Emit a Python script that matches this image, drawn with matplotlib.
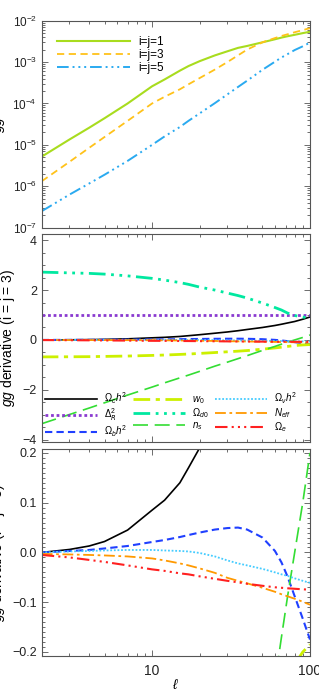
import numpy as np
import matplotlib
matplotlib.use('Agg')
import matplotlib.pyplot as plt
from matplotlib.ticker import MultipleLocator, FormatStrFormatter, NullFormatter, LogLocator

plt.rcParams['font.family'] = ['Liberation Sans', 'DejaVu Sans']
plt.rcParams['mathtext.fontset'] = 'custom'
plt.rcParams['mathtext.rm'] = 'Liberation Sans'
plt.rcParams['mathtext.it'] = 'Liberation Sans:italic'
plt.rcParams['mathtext.bf'] = 'Liberation Sans:bold'
plt.rcParams['mathtext.cal'] = 'DejaVu Sans:italic'

# multipole values shared by every curve
ell = [2, 3, 4, 5, 7, 10, 12, 15, 17, 20, 25, 30, 35, 40, 50, 60, 66, 72, 80, 90, 100]

# top panel: gg auto spectra
gg11 = [5.2e-6, 1.35e-5, 2.6e-5, 4.4e-5, 1.0e-4, 2.6e-4, 3.8e-4, 6.2e-4, 8.0e-4, 1.05e-3,
        1.45e-3, 1.82e-3, 2.2e-3, 2.45e-3, 3.0e-3, 3.55e-3, 3.9e-3, 4.2e-3, 4.55e-3, 5.0e-3, 5.4e-3]
gg33 = [1.32e-6, 3.9e-6, 8.5e-6, 1.55e-5, 3.8e-5, 1.0e-4, 1.45e-4, 2.2e-4, 2.9e-4, 4.1e-4,
        6.6e-4, 1.0e-3, 1.45e-3, 2.0e-3, 3.0e-3, 3.8e-3, 4.27e-3, 4.68e-3, 5.25e-3, 5.9e-3, 6.6e-3]
gg55 = [2.5e-7, 6.3e-7, 1.17e-6, 1.9e-6, 4.1e-6, 1.0e-5, 1.6e-5, 2.7e-5, 3.8e-5, 5.75e-5,
        1.02e-4, 1.66e-4, 2.5e-4, 3.55e-4, 6.5e-4, 1.02e-3, 1.29e-3, 1.55e-3, 1.95e-3, 2.4e-3, 2.95e-3]
top_labels = ['i=j=1', 'i=j=3', 'i=j=5']

# middle / bottom panels: derivatives of gg (i = j = 3)
d_omch2 = [0.0, 0.006, 0.013, 0.022, 0.045, 0.085, 0.105, 0.14, 0.17, 0.21, 0.27, 0.32,
           0.37, 0.42, 0.50, 0.58, 0.63, 0.68, 0.74, 0.83, 0.92]
d_delta = [1.0] * 21
d_ombh2 = [0.0, 0.003, 0.005, 0.008, 0.013, 0.021, 0.025, 0.031, 0.035, 0.040, 0.046, 0.049,
           0.050, 0.046, 0.030, 0.003, -0.02, -0.048, -0.088, -0.133, -0.175]
d_w0 = [-0.68, -0.675, -0.67, -0.66, -0.645, -0.62, -0.605, -0.58, -0.565, -0.54, -0.505, -0.475,
        -0.45, -0.425, -0.37, -0.32, -0.29, -0.26, -0.225, -0.20, -0.185]
d_omd0 = [2.72, 2.69, 2.67, 2.64, 2.57, 2.47, 2.40, 2.30, 2.23, 2.12, 2.0, 1.88,
          1.78, 1.68, 1.48, 1.30, 1.20, 1.08, 0.98, 0.92, 0.88]
d_ns = [-3.36, -2.99, -2.73, -2.52, -2.21, -1.89, -1.72, -1.52, -1.41, -1.26, -1.05, -0.89,
        -0.75, -0.63, -0.42, -0.26, -0.17, -0.09, 0.0, 0.10, 0.20]
d_omnuh2 = [0.0, 0.002, 0.003, 0.004, 0.005, 0.005, 0.004, 0.003, 0.002, -0.001, -0.008, -0.016,
            -0.022, -0.026, -0.033, -0.040, -0.044, -0.047, -0.052, -0.057, -0.061]
d_neff = [-0.003, -0.004, -0.005, -0.006, -0.008, -0.012, -0.016, -0.022, -0.026, -0.032, -0.041,
          -0.051, -0.057, -0.062, -0.071, -0.079, -0.084, -0.088, -0.093, -0.099, -0.105]
d_ome = [-0.005, -0.010, -0.015, -0.019, -0.026, -0.034, -0.037, -0.042, -0.044, -0.048, -0.053,
         -0.057, -0.060, -0.063, -0.067, -0.070, -0.071, -0.072, -0.073, -0.074, -0.075]

deriv_labels = [r'$\Omega_c h^2$', r'$\Delta^2_{\mathcal{R}}$', r'$\Omega_b h^2$',
                r'$w_0$', r'$\Omega_{d0}$', r'$n_s$',
                r'$\Omega_\nu h^2$', r'$N_{eff}$', r'$\Omega_e$']
deriv_data = [d_omch2, d_delta, d_ombh2, d_w0, d_omd0, d_ns, d_omnuh2, d_neff, d_ome]

# styles
DDD = (0, (6, 2, 1, 2, 1, 2, 1, 2))
top_styles = [
    dict(color='#a8dc1e', ls='-', lw=1.5),
    dict(color='#ffc21a', ls=(0, (4, 2.5)), lw=1.3),
    dict(color='#2aaaf0', ls=DDD, lw=1.4),
]
deriv_styles = [
    dict(color='black', ls='-', lw=1.2),
    dict(color='#8a3ad0', ls=(0, (1, 1)), lw=2.0),
    dict(color='#2040ff', ls=(0, (3.5, 2)), lw=1.5),
    dict(color='#ccf000', ls=(0, (6, 2, 1.5, 2)), lw=2.0),
    dict(color='#00e8a0', ls=DDD, lw=2.0),
    dict(color='#33dd33', ls=(0, (9, 4)), lw=1.2),
    dict(color='#44ccff', ls=(0, (1, 1)), lw=1.3),
    dict(color='#ff9900', ls=(0, (6, 2, 1.5, 2)), lw=1.3),
    dict(color='#ff2020', ls=DDD, lw=1.5),
]

fig = plt.figure(figsize=(3.19, 6.91), dpi=100)
ax1 = fig.add_axes([0.1307, 0.6705, 0.841, 0.2996])
ax2 = fig.add_axes([0.1307, 0.3608, 0.841, 0.3006])
ax3 = fig.add_axes([0.1307, 0.0507, 0.841, 0.2996])

for ax in (ax1, ax2, ax3):
    ax.set_xscale('log')
    ax.set_xlim(2, 100)
    ax.tick_params(which='both', direction='in', top=True, right=True,
                   color='#555555', labelcolor='#222222', labelsize=9, width=0.6)
    ax.tick_params(which='major', length=4.5)
    ax.tick_params(which='minor', length=2.2)
    for s in ax.spines.values():
        s.set_color('#555555')
        s.set_linewidth(0.8)
    ax.xaxis.set_minor_formatter(NullFormatter())

# top panel
for y, st, lab in zip([gg11, gg33, gg55], top_styles, top_labels):
    ax1.plot(ell, y, label=lab, **st)
ax1.set_yscale('log')
ax1.set_ylim(1e-7, 1e-2)
ax1.yaxis.set_minor_locator(LogLocator(base=10, subs=np.arange(2, 10)))
ax1.yaxis.set_minor_formatter(NullFormatter())
ax1.tick_params(axis='y', labelsize=8.5)
ax1.set_xticklabels([])
ax1.set_ylabel(r'$gg$', fontsize=10)
ax1.legend(loc='upper left', frameon=False, fontsize=8.5, handlelength=6.2,
           handletextpad=0.7, labelspacing=0.1, borderaxespad=0.9, borderpad=0.4)

# middle panel
for y, st, lab in zip(deriv_data, deriv_styles, deriv_labels):
    ax2.plot(ell, y, label=lab, **st)
ax2.set_ylim(-4.08, 4.25)
ax2.yaxis.set_major_locator(MultipleLocator(2))
ax2.yaxis.set_minor_locator(MultipleLocator(0.5))
ax2.set_xticklabels([])
ax2.set_ylabel(r'$gg$ derivative (i = j = 3)', fontsize=10)
ax2.legend(loc='lower left', ncol=3, frameon=False, fontsize=7, handlelength=5.4,
           handletextpad=0.7, labelspacing=0.0, columnspacing=0.6,
           borderaxespad=0.1, borderpad=0.2)

# bottom panel (zoom near zero)
for y, st in zip(deriv_data, deriv_styles):
    ax3.plot(ell, y, **st)
ax3.set_ylim(-0.208, 0.208)
ax3.yaxis.set_major_locator(MultipleLocator(0.1))
ax3.yaxis.set_minor_locator(MultipleLocator(0.01))
ax3.xaxis.set_major_formatter(FormatStrFormatter('%d'))
ax3.tick_params(axis='x', labelsize=10, pad=6)
ax3.set_ylabel(r'$gg$ derivative (i = j = 3)', fontsize=10)
ax3.set_xlabel(r'$\ell$', fontsize=10, labelpad=0)

fig.savefig('out.png', dpi=100)
